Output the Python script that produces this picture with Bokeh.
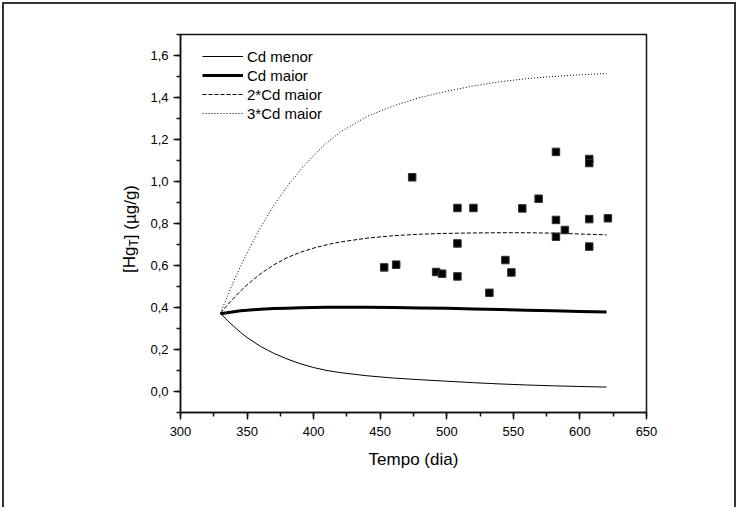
from math import pi
import numpy as np
from bokeh.plotting import figure
from bokeh.models import Label, FixedTicker, Legend, LegendItem
from bokeh.embed import file_html
from bokeh.resources import INLINE

# ---- data ----
t_model = [330, 335, 340, 345, 350, 360, 370, 380, 390, 400, 410, 420,
           440, 460, 480, 500, 520, 540, 560, 580, 600, 620]
cd_menor = [0.373, 0.340, 0.310, 0.282, 0.257, 0.215, 0.182, 0.155, 0.132, 0.114, 0.100, 0.090,
            0.075, 0.064, 0.056, 0.049, 0.042, 0.036, 0.031, 0.027, 0.024, 0.021]
cd_maior = [0.370, 0.375, 0.380, 0.384, 0.387, 0.392, 0.395, 0.397, 0.399, 0.400, 0.401, 0.401,
            0.401, 0.400, 0.398, 0.396, 0.393, 0.390, 0.387, 0.384, 0.381, 0.378]
cd_maior_2 = [0.373, 0.410, 0.445, 0.478, 0.508, 0.560, 0.603, 0.637, 0.663, 0.683, 0.699, 0.712,
              0.730, 0.742, 0.749, 0.753, 0.755, 0.756, 0.756, 0.754, 0.750, 0.746]
cd_maior_3 = [0.373, 0.450, 0.525, 0.595, 0.660, 0.780, 0.885, 0.975, 1.055, 1.125, 1.185, 1.235,
              1.310, 1.360, 1.400, 1.430, 1.455, 1.475, 1.490, 1.500, 1.508, 1.514]

obs_t = [453, 462, 474, 492, 496.5, 508, 508, 508, 520, 532, 544, 548.5,
         556.7, 569, 582, 582, 582, 588.7, 607, 607, 607, 607, 621]
obs_hg = [0.591, 0.604, 1.020, 0.569, 0.561, 0.548, 0.705, 0.874, 0.874, 0.470, 0.626, 0.567,
          0.872, 0.918, 1.141, 0.817, 0.737, 0.769, 1.107, 1.088, 0.821, 0.690, 0.825]

x_ticks = [300, 350, 400, 450, 500, 550, 600, 650]
y_ticks = [0.0, 0.2, 0.4, 0.6, 0.8, 1.0, 1.2, 1.4, 1.6]
y_tick_labels = ["0,0", "0,2", "0,4", "0,6", "0,8", "1,0", "1,2", "1,4", "1,6"]

series_names = ["Cd menor", "Cd maior", "2*Cd maior", "3*Cd maior"]
y_label_parts = ["[Hg", "T", "] (µg/g)"]

FONT = "Liberation Sans"

p = figure(width=734, height=505, x_range=(300, 650), y_range=(-0.1, 1.7),
           output_backend="svg", toolbar_location=None,
           min_border_left=176, min_border_right=92, min_border_top=30, min_border_bottom=97)
p.styles = {"border-top": "2px solid #333", "border-left": "2px solid #333",
            "border-right": "2px solid #333", "margin-left": "2px", "margin-top": "2px"}
p.grid.visible = False
p.outline_line_color = "#111111"
p.outline_line_width = 1.5
p.background_fill_color = "white"
p.border_fill_color = "white"

r1 = p.line(t_model, cd_menor, line_color="black", line_width=1)
r2 = p.line(t_model, cd_maior, line_color="black", line_width=3)
r3 = p.line(t_model, cd_maior_2, line_color="black", line_width=1, line_dash="4 2")
r4 = p.line(t_model, cd_maior_3, line_color="black", line_width=1, line_dash="1 2")
p.scatter(obs_t, obs_hg, marker="square", size=7.5, fill_color="black", line_color="#333333")

legend = Legend(items=[LegendItem(label=n, renderers=[r]) for n, r in zip(series_names, [r1, r2, r3, r4])],
                location=(22, 290), orientation="vertical",
                border_line_color=None, background_fill_alpha=0,
                label_text_font=FONT, label_text_font_size="15px", label_text_color="black",
                glyph_width=41, glyph_height=18, label_height=18, label_standoff=4,
                spacing=1, padding=0, margin=0)
p.add_layout(legend)

for ax in (p.xaxis[0], p.yaxis[0]):
    ax.axis_line_color = "#111111"
    ax.axis_line_width = 1.5
    ax.major_tick_line_color = "#111111"
    ax.major_tick_line_width = 1.5
    ax.minor_tick_line_color = "#111111"
    ax.minor_tick_line_width = 1.5
    ax.major_tick_out = 7
    ax.major_tick_in = 0
    ax.minor_tick_out = 4
    ax.minor_tick_in = 0
    ax.major_label_text_font = FONT
    ax.major_label_text_font_size = "13px"
    ax.major_label_text_color = "black"
p.xaxis.major_label_standoff = 7
p.yaxis.major_label_standoff = 5

p.xaxis.ticker = FixedTicker(ticks=x_ticks, minor_ticks=list(np.arange(300, 651, 25)))
p.yaxis.ticker = FixedTicker(ticks=y_ticks, minor_ticks=[round(v, 1) for v in np.arange(-0.1, 1.71, 0.1)])
p.yaxis.major_label_overrides = {v: s for v, s in zip(y_ticks, y_tick_labels)}

p.xaxis.axis_label = "Tempo (dia)"
p.xaxis.axis_label_text_font = FONT
p.xaxis.axis_label_text_font_size = "17px"
p.xaxis.axis_label_text_font_style = "normal"
p.xaxis.axis_label_text_color = "black"
p.xaxis.axis_label_standoff = 11

# y-axis title with subscript T: three rotated labels in the left side panel
# (x in px from each panel slot's left edge, y in px above the frame bottom)
label_specs = [(y_label_parts[0], "17px", 1, 139.5),
               (y_label_parts[1], "12px", 19, 166.0),
               (y_label_parts[2], "17px", 35, 173.3)]
for txt, fs, sx, sy in label_specs:
    p.add_layout(Label(x=sx, y=sy, x_units="screen", y_units="screen", angle=pi / 2,
                       text=txt, text_font=FONT, text_font_size=fs, text_color="black",
                       text_align="left", text_baseline="middle"), "left")

open("out.html", "w").write(file_html(p, INLINE))
